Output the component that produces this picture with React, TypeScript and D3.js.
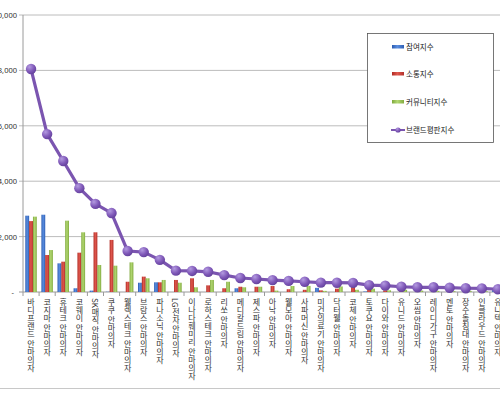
import React from "react";
import * as d3 from "d3";

const categories = [
  "바디프랜드 안마의자", "코지마 안마의자", "휴테크 안마의자", "코웨이 안마의자", "SK매직 안마의자",
  "쿠쿠 안마의자", "웰렉스테크 안마의자", "브람스 안마의자", "파나소닉 안마의자", "LG전자 안마의자",
  "이나다훼미리 안마의자", "로하스테크 안마의자", "리쏘 안마의자", "메디칼드림 안마의자", "제스파 안마의자",
  "아낙 안마의자", "웰모아 안마의자", "사파머신 안마의자", "미건의료기 안마의자", "닥터웰 안마의자",
  "코체 안마의자", "토쿠요 안마의자", "다이와 안마의자", "유니드 안마의자", "오씸 안마의자",
  "레이디가구 안마의자", "멘토 안마의자", "장수돌침대 안마의자", "인클라우드 안마의자", "유니텍 안마의자",
];

const participation = [2755, 2790, 1035, 135, 50, 10, 0, 335, 350, 0, 0, 0, 0, 135, 0, 0, 0, 0, 150, 0, 0, 20, 0, 0, 0, 0, 0, 0, 0, 120];
const communication = [2560, 1335, 1095, 1420, 2155, 1880, 370, 555, 350, 435, 495, 240, 135, 190, 190, 215, 100, 80, 60, 120, 180, 100, 60, 40, 30, 30, 30, 20, 20, 20];
const community = [2720, 1515, 2575, 2155, 975, 950, 1070, 495, 435, 335, 170, 435, 370, 170, 190, 50, 215, 220, 40, 200, 80, 120, 60, 80, 50, 40, 30, 40, 30, 20];
const reputation = [8050, 5700, 4730, 3750, 3180, 2850, 1480, 1440, 1160, 770, 760, 730, 610, 505, 470, 430, 400, 370, 340, 335, 330, 250, 230, 190, 170, 170, 155, 135, 130, 100];

const yTicks = [0, 2000, 4000, 6000, 8000, 10000];

const seriesNames = ["참여지수", "소통지수", "커뮤니티지수", "브랜드평판지수"];

const W = 500;
const H = 398;

export default function App() {
  const x = d3.scaleBand<string>().domain(categories).range([23, 23 + categories.length * 16.1]);
  const inner = d3.scaleBand<number>().domain([0, 1, 2]).range([2.3, 13.8]);
  const y = d3.scaleLinear().domain([0, 10000]).range([292, 15]);

  const barSeries = [
    { values: participation, fill: "url(#gBlue)" },
    { values: communication, fill: "url(#gRed)" },
    { values: community, fill: "url(#gGreen)" },
  ];

  const line = d3
    .line<number>()
    .x((_, i) => (x(categories[i]) as number) + x.bandwidth() / 2)
    .y((d) => y(d));

  const fmt = (v: number) => (v === 0 ? "-" : d3.format(",")(v));
  const legendRows = [47, 74, 102, 130];

  return (
    <svg width={W} height={H} style={{ position: "absolute", left: 0, top: 0, background: "#fff" }}>
      <defs>
        <linearGradient id="gBlue" x1="0" x2="1" y1="0" y2="0">
          <stop offset="0" stopColor="#2b5bb0" />
          <stop offset="0.45" stopColor="#5a8ee0" />
          <stop offset="1" stopColor="#2f5fb5" />
        </linearGradient>
        <linearGradient id="gRed" x1="0" x2="1" y1="0" y2="0">
          <stop offset="0" stopColor="#b02a22" />
          <stop offset="0.45" stopColor="#e0584e" />
          <stop offset="1" stopColor="#b3302a" />
        </linearGradient>
        <linearGradient id="gGreen" x1="0" x2="1" y1="0" y2="0">
          <stop offset="0" stopColor="#7fa83c" />
          <stop offset="0.45" stopColor="#b2d872" />
          <stop offset="1" stopColor="#82ab40" />
        </linearGradient>
        <radialGradient id="gDot" cx="0.35" cy="0.3" r="0.75">
          <stop offset="0" stopColor="#b39ae0" />
          <stop offset="0.6" stopColor="#7f58b8" />
          <stop offset="1" stopColor="#62409a" />
        </radialGradient>
      </defs>

      {/* gridlines */}
      {yTicks.map((t) => (
        <line key={t} x1={19} x2={W} y1={y(t)} y2={y(t)} stroke={t === 0 ? "#9a9a9a" : "#bcbcbc"} strokeWidth={1} />
      ))}
      <line x1={23} x2={23} y1={y(10000)} y2={y(0)} stroke="#9a9a9a" />
      {yTicks.map((t) => (
        <text key={"l" + t} x={t === 0 ? 14 : 17} y={y(t) + 3} textAnchor="end" fontSize={7.5} fontFamily="Noto Sans, sans-serif" fill="#333">
          {fmt(t)}
        </text>
      ))}
      {categories.map((c) => (
        <line key={"t" + c} x1={x(c) as number} x2={x(c) as number} y1={292} y2={296} stroke="#9a9a9a" />
      ))}

      {/* bars */}
      {barSeries.map((s, si) =>
        s.values.map((v, i) => (
          <rect
            key={si + "-" + i}
            x={(x(categories[i]) as number) + (inner(si) as number)}
            y={y(v)}
            width={inner.bandwidth()}
            height={y(0) - y(v)}
            fill={s.fill}
          />
        ))
      )}

      {/* line */}
      <path d={line(reputation) || ""} fill="none" stroke="#7b55b0" strokeWidth={3.2} strokeLinejoin="round" />
      {reputation.map((v, i) => (
        <circle key={"c" + i} cx={(x(categories[i]) as number) + x.bandwidth() / 2} cy={y(v)} r={5.2} fill="url(#gDot)" />
      ))}

      {/* category labels */}
      {categories.map((c) => (
        <text
          key={"c" + c}
          x={(x(c) as number) + x.bandwidth() / 2}
          y={298}
          fontSize={8}
          fontFamily="Noto Sans CJK KR, sans-serif"
          fill="#333"
          style={{ writingMode: "vertical-rl" } as React.CSSProperties}
        >
          {c}
        </text>
      ))}

      {/* legend */}
      <rect x={367.5} y={33.5} width={126} height={109} fill="#fff" stroke="#555" strokeWidth={0.8} />
      {seriesNames.map((n, i) => (
        <g key={n}>
          {i < 3 ? (
            <rect x={392} y={legendRows[i] - 2} width={12} height={3.5} fill={barSeries[i].fill} />
          ) : (
            <g>
              <line x1={391} x2={405} y1={legendRows[i]} y2={legendRows[i]} stroke="#7b55b0" strokeWidth={2} />
              <circle cx={398} cy={legendRows[i]} r={2.6} fill="url(#gDot)" />
            </g>
          )}
          <text x={406} y={legendRows[i] + 3} fontSize={7.5} fontFamily="Noto Sans CJK KR, sans-serif" fill="#222">
            {n}
          </text>
        </g>
      ))}

      {/* outer chart border */}
      <line x1={0} x2={W} y1={388.5} y2={388.5} stroke="#c8c8c8" />
    </svg>
  );
}
